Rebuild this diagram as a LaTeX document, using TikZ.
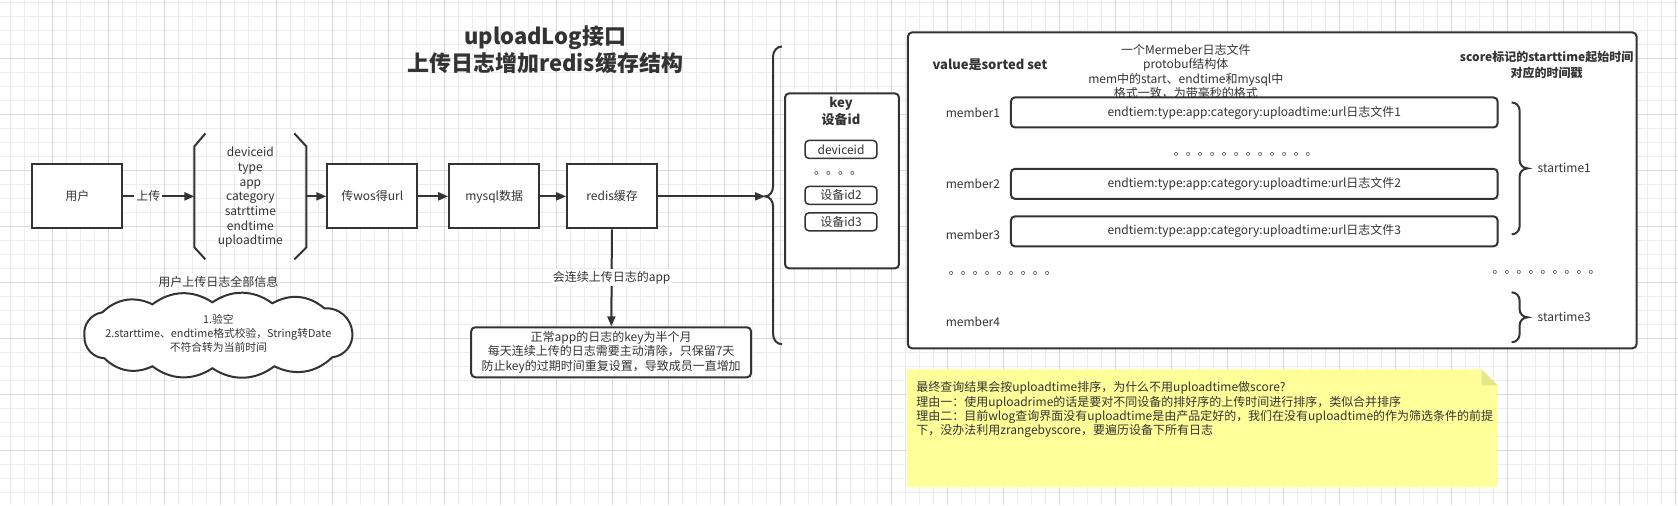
\documentclass[tikz,border=0pt]{standalone}
\usepackage{fontspec}
\setmainfont{Noto Sans CJK SC}
\usepackage{xcolor}
\usetikzlibrary{shapes, arrows.meta, positioning}
\definecolor{ink}{HTML}{333333}
\definecolor{gridmin}{HTML}{EDEDED}
\definecolor{gridmaj}{HTML}{D9D9D9}
\definecolor{notey}{HTML}{FFFF99}
\definecolor{notefold}{HTML}{E6E68A}

\begin{document}
\begin{tikzpicture}[x=0.5pt, y=-0.5pt,
            every node/.style={text=ink, font=\fontsize{6}{7.3}\selectfont},
            box/.style={draw=ink, line width=1pt, fill=white, rectangle, minimum width=45pt, minimum height=32pt, align=center},
            rbox/.style={box, rounded corners=2pt},
            pipe/.style={-{Triangle[length=5pt, width=4pt]}, draw=ink, line width=1pt},
            lbl/.style={fill=white, inner sep=1pt},
            brk/.style={draw=ink, line width=1pt},
            dotrow/.style={anchor=base, inner sep=0pt}]

            % 背景网格
            \fill[white] (0,0) rectangle (1678,505);
            \foreach \gx in {10,24,...,1678} \draw[gridmin, line width=0.5pt] (\gx,0) -- (\gx,505);
            \foreach \gy in {2,16,...,505} \draw[gridmin, line width=0.5pt] (0,\gy) -- (1678,\gy);
            \foreach \gx in {52,108,...,1678} \draw[gridmaj, line width=0.5pt] (\gx,0) -- (\gx,505);
            \foreach \gy in {58,114,...,505} \draw[gridmaj, line width=0.5pt] (0,\gy) -- (1678,\gy);
            \useasboundingbox (0,0) rectangle (1678,505);

            % 标题
            \node[font=\bfseries\fontsize{11}{13.5}\selectfont, align=center] (title) at (545,49) {uploadLog接口\\上传日志增加redis缓存结构};

            % 主流程
            \node[box] (user) at (77,196) {用户};
            \node[box] (wos) at (372,196) {传wos得url};
            \node[box] (mysql) at (494,196) {mysql数据};
            \node[box] (redis) at (612,196) {redis缓存};

            % 上传字段
            \node[align=center, font=\fontsize{6}{7.35}\selectfont] (fields) at (250,197) {deviceid\\type\\app\\category\\satrttime\\endtime\\uploadtime};
            \draw[brk] (205,133) -- (194,146) -- (194,247) -- (205,259);
            \draw[brk] (294,133) -- (306,146) -- (306,247) -- (294,259);
            \coordinate (fieldsL) at (194,196);
            \coordinate (fieldsR) at (306,196);
            \node (fieldsnote) at (218,282) {用户上传日志全部信息};

            % 校验(云)
            \draw[brk, fill=white] (84,336) to[bend left=45] (102,312) to[bend left=35] (152,304)
                to[bend left=35] (212,302) to[bend left=35] (272,303) to[bend left=35] (324,308)
                to[bend left=45] (352,332) to[bend left=45] (332,357) to[bend left=35] (274,366)
                to[bend left=35] (212,368) to[bend left=35] (152,366) to[bend left=35] (104,358)
                to[bend left=45] (84,336) -- cycle;
            \node[align=center, font=\fontsize{5.4}{7.2}\selectfont] (checktext) at (218,333) {1.验空\\2.starttime、endtime格式校验，String转Date\\不符合转为当前时间};

            % 过期说明
            \node[rbox, minimum width=140pt, minimum height=25pt, inner sep=1pt] (expire) at (611,352) {正常app的日志的key为半个月\\每天连续上传的日志需要主动清除，只保留7天\\防止key的过期时间重复设置，导致成员一直增加};

            % 连接
            \draw[pipe] (user) -- node[lbl, pos=0.35] {上传} (fieldsL);
            \draw[pipe] (fieldsR) -- (wos);
            \draw[pipe] (wos) -- (mysql);
            \draw[pipe] (mysql) -- (redis);
            \draw[pipe] (redis) -- node[lbl] {会连续上传日志的app} (expire);

            % key 大括号
            \draw[brk] (782,46) to[out=180,in=90] (773,56) -- (773,186) to[out=-90,in=0] (765,196)
                to[out=0,in=90] (773,206) -- (773,334) to[out=-90,in=180] (782,344);
            \coordinate (keytip) at (765,196);
            \draw[pipe] (redis) -- (keytip);

            % key
            \node[rbox, minimum width=57pt, minimum height=87.5pt, anchor=north west] (keybox) at (784,92) {};
            \node[font=\bfseries\fontsize{6.5}{8.5}\selectfont, align=center] (keytitle) at (841,111) {key\\设备id};
            \node[rbox, line width=0.75pt, minimum width=36pt, minimum height=9pt, inner sep=1pt] (dev1) at (841,149) {deviceid};
            \node[dotrow] (keydots) at (838,174) {。。。。};
            \node[rbox, line width=0.75pt, minimum width=36pt, minimum height=9pt, inner sep=1pt] (dev2) at (841,195) {设备id2};
            \node[rbox, line width=0.75pt, minimum width=36pt, minimum height=9pt, inner sep=1pt] (dev3) at (841,221.5) {设备id3};

            % value
            \node[rbox, minimum width=364.5pt, minimum height=158pt, anchor=north west] (valuebox) at (907,31) {};
            \node[font=\bfseries\fontsize{6.5}{8}\selectfont] (valuetitle) at (990,64) {value是sorted set};
            \node[align=center, font=\fontsize{6}{7.15}\selectfont] (memnote) at (1186,71) {一个Mermeber日志文件\\protobuf结构体\\mem中的start、endtime和mysql中\\格式一致，为带毫秒的格式};
            \node[font=\bfseries\fontsize{6}{8}\selectfont, align=center] (scoretitle) at (1547,65) {score标记的starttime起始时间\\对应的时间戳};

            % member
            \node[rbox, minimum width=243.5pt, minimum height=15pt] (m1) at (1254.5,112) {endtiem:type:app:category:uploadtime:url日志文件1};
            \node[dotrow] (middots) at (1246,155) {。。。。。。。。。。。。};
            \node[rbox, minimum width=243.5pt, minimum height=15pt] (m2) at (1254.5,183.5) {endtiem:type:app:category:uploadtime:url日志文件2};
            \node[rbox, minimum width=243.5pt, minimum height=15pt] (m3) at (1254.5,231) {endtiem:type:app:category:uploadtime:url日志文件3};
            \node (m1label) at (973,112) {member1};
            \node (m2label) at (973,183) {member2};
            \node (m3label) at (973,234) {member3};
            \node (m4label) at (973,322) {member4};
            \node[dotrow] (leftdots) at (1003,274) {。。。。。。。。。};
            \node[dotrow] (rightdots) at (1547,273) {。。。。。。。。。};

            % score 括号
            \draw[brk] (1512,102) to[out=0,in=90] (1520,110) -- (1520,160) to[out=-90,in=180] (1528,168)
                to[out=180,in=90] (1520,176) -- (1520,226) to[out=-90,in=0] (1512,234);
            \draw[brk] (1512,292) to[out=0,in=90] (1520,300) -- (1520,309) to[out=-90,in=180] (1528,317)
                to[out=180,in=90] (1520,325) -- (1520,334) to[out=-90,in=0] (1512,342);
            \node[anchor=west] (st1) at (1531,168) {startime1};
            \node[anchor=west] (st3) at (1531,317) {startime3};

            % 备注
            \fill[notey] (907,369) -- (1482,369) -- (1498,385) -- (1498,487) -- (907,487) -- cycle;
            \fill[notefold] (1482,369) -- (1482,385) -- (1498,385) -- cycle;
            \node[anchor=north west, align=left, inner sep=0pt, font=\fontsize{6}{7.15}\selectfont] (notetext) at (916,381) {最终查询结果会按uploadtime排序，为什么不用uploadtime做score?\\理由一：使用uploadrime的话是要对不同设备的排好序的上传时间进行排序，类似合并排序\\理由二：目前wlog查询界面没有uploadtime是由产品定好的，我们在没有uploadtime的作为筛选条件的前提\\下，没办法利用zrangebyscore，要遍历设备下所有日志};
        \end{tikzpicture}
\end{document}
